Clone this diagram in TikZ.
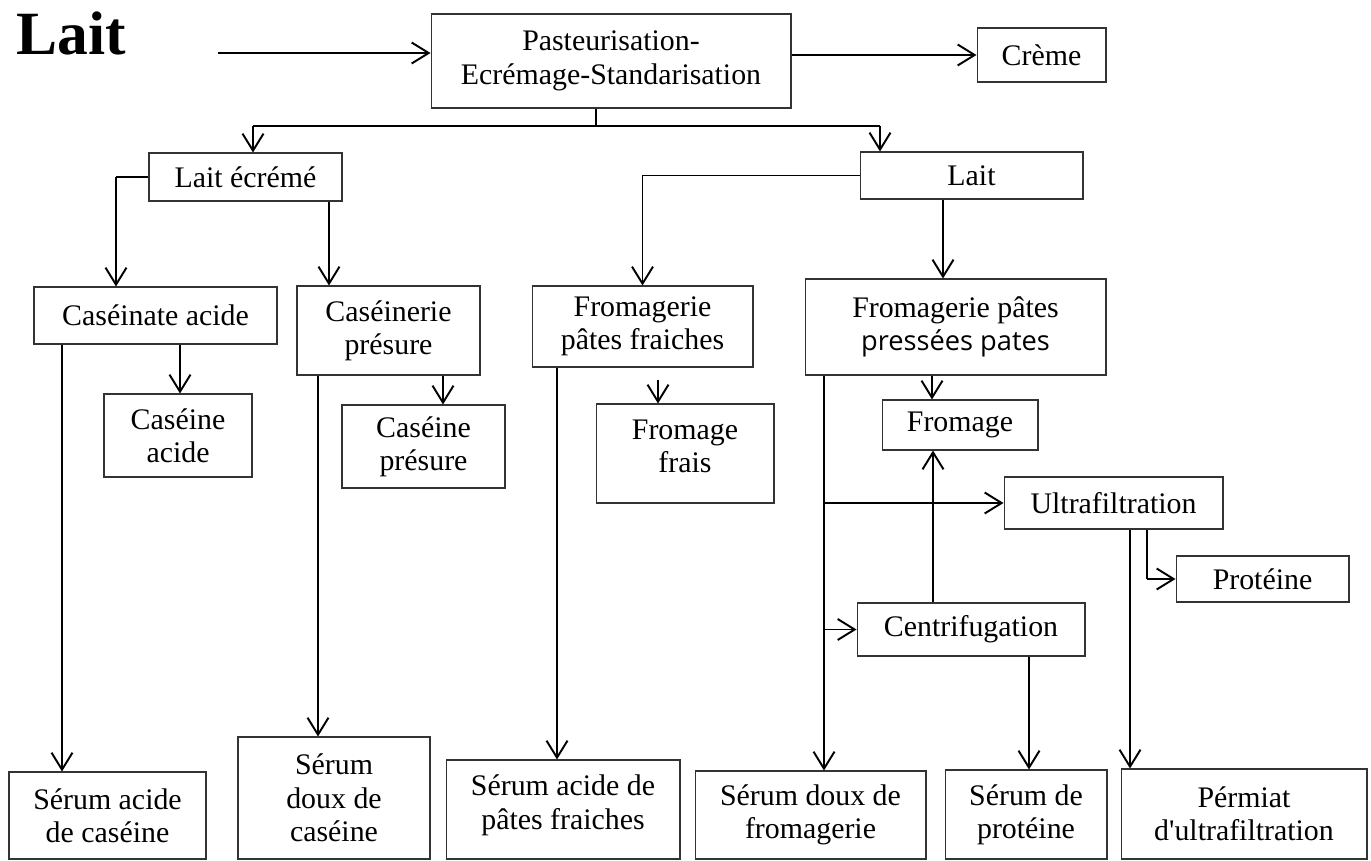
\documentclass[tikz,border=0pt]{standalone}
\usepackage{fontspec}
\setmainfont{Liberation Serif}
\newfontfamily\sansf{Open Sans}
\newfontfamily\rawf{Liberation Serif}[Ligatures=TeXOff]
\usetikzlibrary{arrows.meta}

\begin{document}
\begin{tikzpicture}[x=0.02cm,y=-0.02cm,
  box/.style={draw=black!80,line width=0.6pt,inner sep=0pt,align=center,font=\fontsize{17}{19}\selectfont},
  arr/.style={line width=1.1pt,-{Straight Barb[length=0.34cm,width=0.42cm]}},
  lnk/.style={line width=0.6pt}]
\useasboundingbox (0,0) rectangle (1371,861);

\node[font=\fontsize{35}{38}\selectfont\bfseries] (titre) at (71,33) {Lait};

\node[box,minimum width=7.2cm,minimum height=1.88cm] (past) at (611,61) {Pasteurisation-\\Ecrémage-Standarisation};
\node[box,minimum width=2.58cm,minimum height=1.08cm] (creme) at (1041.5,55) {Crème};
\node[box,minimum width=3.86cm,minimum height=0.96cm] (ecreme) at (245.5,177) {Lait écrémé};
\node[box,minimum width=4.46cm,minimum height=0.94cm] (laitb) at (971.5,175.5) {Lait};

\node[box,minimum width=4.86cm,minimum height=1.14cm] (caseinate) at (155.5,315.5) {Caséinate acide};
\node[box,minimum width=3.66cm,minimum height=1.78cm] (caseinerie) at (388.5,330.5) {Caséinerie\\présure};
\node[box,minimum width=4.42cm,minimum height=1.62cm] (fraiches) at (642.5,326.5) {Fromagerie\\pâtes fraiches};
\node[box,minimum width=6.02cm,minimum height=1.92cm] (pressees) at (955.5,327) {Fromagerie pâtes\\{\sansf\fontsize{15.5}{19}\selectfont pressées pates}};

\node[box,minimum width=2.96cm,minimum height=1.66cm] (cacide) at (178,435.5) {Caséine\\acide};
\node[box,minimum width=3.26cm,minimum height=1.66cm] (cpresure) at (423.5,446.5) {Caséine\\présure};
\node[box,minimum width=3.56cm,minimum height=1.98cm] (ffrais) at (685,453.5) {Fromage\\frais\rule[-0.3cm]{0pt}{0pt}};
\node[box,minimum width=3.12cm,minimum height=1.0cm] (fromage) at (960,425) {Fromage};
\node[box,minimum width=4.38cm,minimum height=1.04cm] (ultra) at (1113.5,503) {Ultrafiltration};
\node[box,minimum width=3.46cm,minimum height=0.92cm] (proteine) at (1262.5,579) {Protéine};
\node[box,minimum width=4.56cm,minimum height=1.06cm] (centri) at (971,629.5) {Centrifugation};

\node[box,minimum width=3.94cm,minimum height=1.74cm] (sac) at (107.5,815.5) {Sérum acide\\de caséine};
\node[box,minimum width=3.84cm,minimum height=2.44cm] (sdc) at (334,798) {Sérum\\doux de\\caséine};
\node[box,minimum width=4.68cm,minimum height=1.98cm] (sap) at (563,809.5) {Sérum acide de\\pâtes fraiches\rule[-0.3cm]{0pt}{0pt}};
\node[box,minimum width=4.62cm,minimum height=1.76cm] (sdf) at (810.5,815) {Sérum doux de\\fromagerie};
\node[box,minimum width=3.24cm,minimum height=1.78cm] (sdp) at (1026,814.5) {Sérum de\\protéine};
\node[box,minimum width=4.92cm,minimum height=1.8cm] (perm) at (1244,814) {Pérmiat\\d{\rawf '}ultrafiltration};

\foreach \n/\x in {1/116,2/329,4/943,5/180,6/62,7/443,8/318,9/658,10/557,11/932,12/824,13/933,14/1029,15/1130,16/1147}
  \coordinate (v\n) at (\x,0);

\coordinate (in) at (218,53);
\draw[arr] (in) -- (in -| past.west);
\draw[arr] (past.east |- creme.west) -- (creme.west);

\coordinate (jp) at (596,126);
\coordinate (jl) at (253,126);
\coordinate (jr) at (880,126);
\draw[lnk] (past.south -| jp) -- (jp);
\draw[lnk] (jl) -- (jr);
\draw[arr] (jl) -- (jl |- ecreme.north);
\draw[arr] (jr) -- (jr |- laitb.north);

\draw[lnk] (ecreme.west) -- (ecreme.west -| v1);
\draw[arr] (ecreme.west -| v1) -- (v1 |- caseinate.north);
\draw[arr] (ecreme.south -| v2) -- (v2 |- caseinerie.north);
\draw[lnk] (laitb.west) -- (laitb.west -| fraiches.north);
\draw[arr] (laitb.west -| fraiches.north) -- (fraiches.north);
\draw[arr] (laitb.south -| v4) -- (v4 |- pressees.north);

\draw[arr] (caseinate.south -| v5) -- (v5 |- cacide.north);
\draw[arr] (caseinate.south -| v6) -- (v6 |- sac.north);
\draw[arr] (caseinerie.south -| v7) -- (v7 |- cpresure.north);
\draw[arr] (caseinerie.south -| v8) -- (v8 |- sdc.north);
\draw[arr,shorten <=0.24cm] (fraiches.south -| v9) -- (v9 |- ffrais.north);
\draw[arr] (fraiches.south -| v10) -- (v10 |- sap.north);

\draw[arr] (pressees.south -| v11) -- (v11 |- fromage.north);
\draw[arr] (pressees.south -| v12) -- (v12 |- sdf.north);
\draw[arr] (v12 |- ultra.west) -- (ultra.west);
\draw[arr] (v12 |- centri.west) -- (centri.west);
\draw[arr] (centri.north -| v13) -- (v13 |- fromage.south);
\draw[arr] (centri.south -| v14) -- (v14 |- sdp.north);
\draw[arr] (ultra.south -| v15) -- (v15 |- perm.north);
\draw[lnk] (ultra.south -| v16) -- (v16 |- proteine.west);
\draw[arr] (v16 |- proteine.west) -- (proteine.west);
\end{tikzpicture}
\end{document}
